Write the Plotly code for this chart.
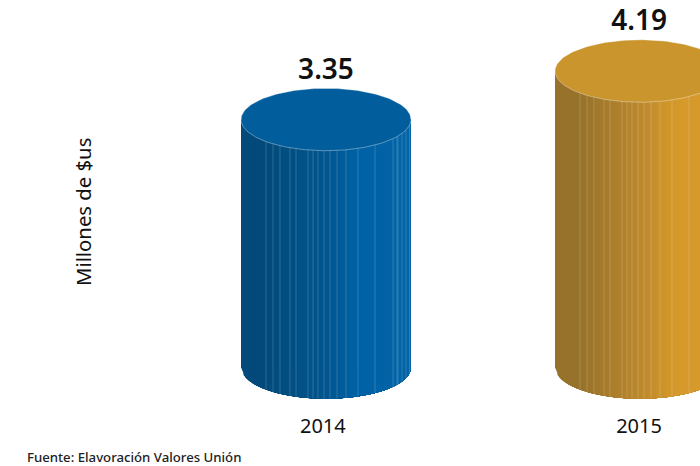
import numpy as np
import plotly.graph_objects as go

# Data
years = ["2014", "2015"]
values = [3.35, 4.19]
axis_title = "Millones de $us"
source_note = "Fuente: Elavoración Valores Unión"

# Style
blue_stops = [(0, "#034a7b"), (0.14, "#034a7b"), (0.5, "#01568f"), (0.68, "#0062a6"), (1, "#0364a6")]
gold_stops = [(0, "#97722a"), (0.14, "#97722a"), (0.5, "#bc882c"), (0.68, "#d4982b"), (1, "#d89c2e")]
top_colors = ["#015d9c", "#c9952c"]
palettes = [blue_stops, gold_stops]
seam_offsets = [25, 32, 39, 49, 55, 67, 72, 77, 83, 89, 96, 105, 117, 134, 152, 156, 157, 161, 165, 168.5]

# Scale: pixels per category and per value unit
W, H, B = 700, 466, 54
PX_CAT = 314.0
PX_VAL = 57.7
LEFT_PX = 326.0
FLOOR_PX = 367.5
FLOOR_VAL = 3.35 - (367.5 - 119.5) / PX_VAL
RX = 85 / PX_CAT
RY = 31.2 / PX_VAL
PLOT_H = H - B


def hex_rgb(c):
    return np.array([int(c[i:i + 2], 16) for i in (1, 3, 5)], float)


def shade(stops, u):
    xs = [s[0] for s in stops]
    cs = np.array([hex_rgb(s[1]) for s in stops])
    rgb = [np.interp(u, xs, cs[:, k]) for k in range(3)]
    return "rgb(%d,%d,%d)" % tuple(int(round(v)) for v in rgb)


def arc(xc, a, b, sign, base):
    """Points on the front arc of an ellipse between offsets a and b (-1..1)."""
    u = np.linspace(a, b, 40)
    return xc + RX * u, base + sign * RY * np.sqrt(np.clip(1 - u * u, 0, 1))


fig = go.Figure()
for i, (val, stops, top) in enumerate(zip(values, palettes, top_colors)):
    # Side wall, painted left to right so neighbours leave no gap
    steps = np.linspace(-1, 1, 70)
    for a in steps[:-1]:
        ax, ay = arc(i, a, 1, -1, FLOOR_VAL)
        xs = np.concatenate([[i + RX * a], ax, [i + RX], [i + RX * a]])
        ys = np.concatenate([[val], ay, [val], [val]])
        fig.add_trace(go.Scatter(x=xs, y=ys, mode="lines", line=dict(width=0), fill="toself",
                                 fillcolor=shade(stops, (a + 1) / 2), hoverinfo="skip", showlegend=False))
    # Seams between the wall facets
    for off in seam_offsets:
        u = off / 85 - 1
        y0 = FLOOR_VAL - RY * np.sqrt(1 - u * u)
        y1 = val - RY * np.sqrt(1 - u * u)
        fig.add_trace(go.Scatter(x=[i + RX * u] * 2, y=[y0, y1], mode="lines",
                                 line=dict(width=0.9, color="rgba(255,255,255,0.2)"),
                                 hoverinfo="skip", showlegend=False))
    # Top cap
    t = np.linspace(0, 2 * np.pi, 181)
    fig.add_trace(go.Scatter(x=i + RX * np.cos(t), y=val + RY * np.sin(t), mode="lines",
                             line=dict(width=0.8, color="rgba(255,255,255,0.45)"),
                             fill="toself", fillcolor=top, hoverinfo="skip", showlegend=False))

# Value labels
fig.add_trace(go.Scatter(x=[0, 0.997], y=[v + RY + 2.5 / PX_VAL for v in values], mode="text",
                         text=["%.2f" % v for v in values], textposition="top center",
                         textfont=dict(family="Noto Sans", size=28, color="#111111", weight=600),
                         cliponaxis=False, hoverinfo="skip", showlegend=False))

fig.update_layout(
    width=W, height=H, margin=dict(l=0, r=0, t=0, b=B),
    paper_bgcolor="white", plot_bgcolor="white", showlegend=False,
    xaxis=dict(range=[-LEFT_PX / PX_CAT, (W - LEFT_PX) / PX_CAT], tickvals=[-0.01, 0.997], ticktext=years,
               showgrid=False, zeroline=False, showline=False, ticks="", ticklen=0,
               tickfont=dict(family="Noto Sans", size=20, color="#111111")),
    yaxis=dict(range=[FLOOR_VAL - (PLOT_H - FLOOR_PX) / PX_VAL, FLOOR_VAL + FLOOR_PX / PX_VAL],
               visible=False),
    annotations=[
        dict(text=axis_title, xref="paper", yref="paper", x=83 / W, y=(PLOT_H - 212) / PLOT_H,
             textangle=-90, showarrow=False, xanchor="center", yanchor="middle",
             font=dict(family="Noto Sans", size=20.3, color="#111111")),
        dict(text=source_note, xref="paper", yref="paper", x=24.5 / W, y=(PLOT_H - 457) / PLOT_H,
             showarrow=False, xanchor="left", yanchor="middle",
             font=dict(family="Noto Sans", size=13.2, color="#222222", weight=500)),
    ],
)
fig.write_html("out.html", post_script="document.body.style.margin='0';",
               config=dict(displayModeBar=False))
